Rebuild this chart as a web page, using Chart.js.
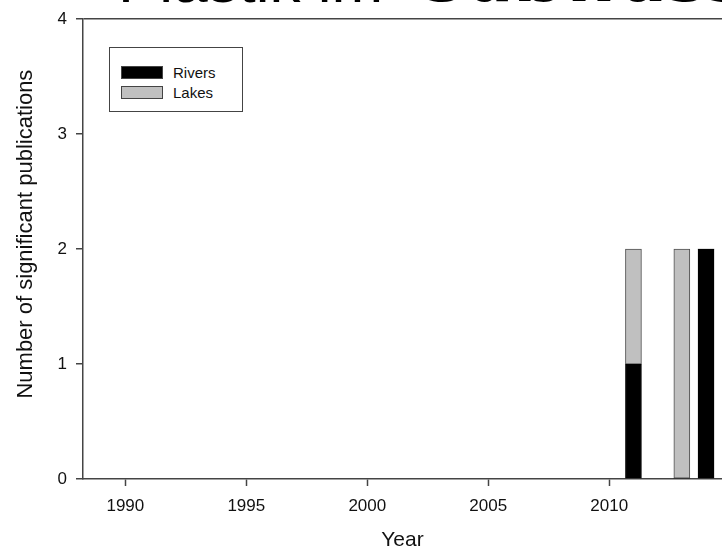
<!DOCTYPE html>
<html>
<head>
<meta charset="utf-8">
<script src="https://cdn.jsdelivr.net/npm/chart.js@4.4.1/dist/chart.umd.min.js"></script>
<style>
  html, body { margin: 0; padding: 0; background: #fff; }
  #wrap { position: relative; width: 722px; height: 553px; overflow: hidden; font-family: "Liberation Sans", Arial, sans-serif; }
  #chart { position: absolute; left: 0; top: 0; }
  .slideTitle { position: absolute; color: #000; white-space: nowrap; }
  #titleA { left: 118px; top: -50px; font-size: 62px; line-height: 62px; font-weight: normal; }
  #titleB { left: 419px; top: -54px; font-family: "DejaVu Sans", sans-serif; font-size: 66px; line-height: 66px; font-weight: bold; }
  #legend { position: absolute; left: 109px; top: 47px; width: 134px; height: 65px; border: 1px solid #444; background: #fff; box-sizing: border-box; }
  .legendRow { position: absolute; left: 11px; height: 14px; display: flex; align-items: center; font-size: 15px; color: #111; }
  .legendSwatch { width: 42px; height: 13px; box-sizing: border-box; border: 1px solid #444; margin-right: 10px; }
</style>
</head>
<body>
<div id="wrap">
  <canvas id="chart" width="722" height="553"></canvas>
  <div class="slideTitle" id="titleA">Plastik im</div>
  <div class="slideTitle" id="titleB">Süßwasser</div>
  <div id="legend"></div>
</div>
<script>
const years = [2011, 2013, 2014];
const rivers = [1, 0, 2];
const lakes = [1, 2, 0];
const xTicks = [1990, 1995, 2000, 2005, 2010];
const yTicks = [0, 1, 2, 3, 4];

const seriesNames = ['Rivers', 'Lakes'];
const seriesFill = ['#000000', '#c0c0c0'];
const seriesLine = ['#000000', '#505050'];

const yTitle = 'Number of significant publications';

const axisColor = '#444';
const textColor = '#111';
const fontFamily = '"Liberation Sans", Arial, sans-serif';

const toPoints = (values) => years.map((year, index) => ({ x: year, y: values[index] }));

const makeDataset = (label, values, index) => ({
  label,
  data: toPoints(values),
  backgroundColor: seriesFill[index],
  borderColor: seriesLine[index],
  borderWidth: (ctx) => (ctx.raw && ctx.raw.y ? 1 : 0),
  borderSkipped: false,
  barThickness: 16
});

// y title sits a bit above the axis middle in the original, so draw it by hand
const yTitlePlugin = {
  id: 'yTitle',
  afterDraw: (chart) => {
    const { ctx, chartArea } = chart;
    ctx.save();
    ctx.translate(26, chartArea.top + (chartArea.bottom - chartArea.top) / 2 - 15);
    ctx.rotate(-Math.PI / 2);
    ctx.font = `22px ${fontFamily}`;
    ctx.fillStyle = textColor;
    ctx.textAlign = 'center';
    ctx.textBaseline = 'middle';
    ctx.fillText(yTitle, 0, 0);
    ctx.restore();
  }
};

const renderLegend = (chart) => {
  const legend = document.getElementById('legend');
  chart.data.datasets.forEach((dataset, index) => {
    const row = document.createElement('div');
    row.className = 'legendRow';
    row.style.top = `${17 + index * 20}px`;
    const swatch = document.createElement('span');
    swatch.className = 'legendSwatch';
    swatch.style.background = dataset.backgroundColor;
    row.appendChild(swatch);
    row.appendChild(document.createTextNode(dataset.label));
    legend.appendChild(row);
  });
};

const chart = new Chart(document.getElementById('chart'), {
  type: 'bar',
  data: {
    datasets: [
      makeDataset(seriesNames[0], rivers, 0),
      makeDataset(seriesNames[1], lakes, 1)
    ]
  },
  options: {
    responsive: false,
    animation: false,
    devicePixelRatio: 1,
    layout: { padding: { top: 15, left: 0, right: 0, bottom: 0 } },
    plugins: {
      legend: { display: false },
      tooltip: { enabled: false }
    },
    scales: {
      x: {
        type: 'linear',
        stacked: true,
        offset: false,
        min: 1988.25,
        max: 2014.66,
        afterBuildTicks: (scale) => {
          scale.ticks = xTicks.map((value) => ({ value }));
        },
        afterFit: (scale) => {
          scale.height = 74;
        },
        grid: {
          offset: false,
          drawOnChartArea: false,
          tickLength: 7,
          tickColor: axisColor,
          tickWidth: 1.5
        },
        border: { color: axisColor, width: 1.5 },
        ticks: {
          autoSkip: false,
          maxRotation: 0,
          padding: 10,
          color: textColor,
          font: { family: fontFamily, size: 17 },
          callback: (value) => String(value)
        },
        title: {
          display: true,
          text: 'Year',
          color: textColor,
          font: { family: fontFamily, size: 21 },
          padding: { top: 0, bottom: 0 }
        }
      },
      y: {
        stacked: true,
        min: 0,
        max: 4,
        afterBuildTicks: (scale) => {
          scale.ticks = yTicks.map((value) => ({ value }));
        },
        afterFit: (scale) => {
          scale.width = 83;
        },
        grid: {
          drawOnChartArea: true,
          color: (ctx) => (ctx.tick && ctx.tick.value === 4 ? axisColor : 'rgba(0,0,0,0)'),
          lineWidth: 1.5,
          tickLength: 7,
          tickColor: axisColor,
          tickWidth: 1.5
        },
        border: { color: axisColor, width: 1.5 },
        ticks: {
          padding: 9,
          color: textColor,
          font: { family: fontFamily, size: 17 }
        }
      }
    }
  },
  plugins: [yTitlePlugin]
});

renderLegend(chart);
</script>
</body>
</html>
